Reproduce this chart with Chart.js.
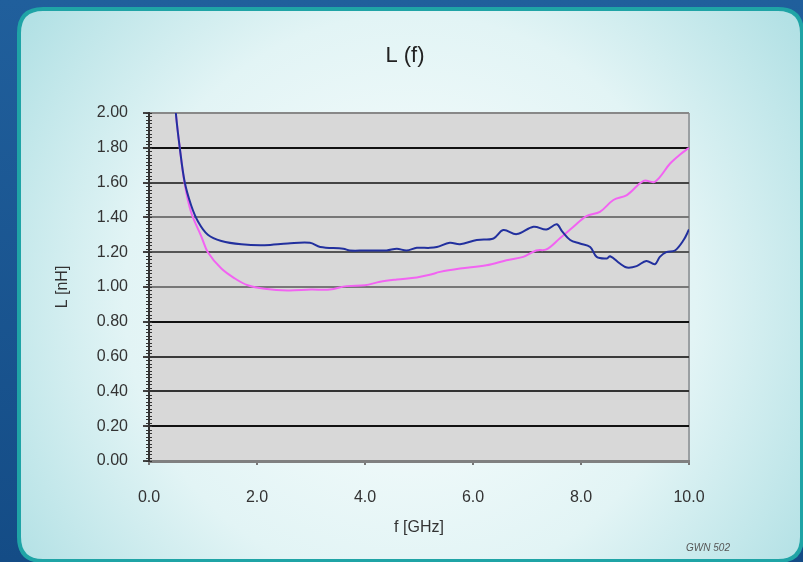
<!DOCTYPE html>
<html><head><meta charset="utf-8">
<script src="https://cdn.jsdelivr.net/npm/chart.js@4/dist/chart.umd.min.js"></script>
<style>html,body{margin:0;padding:0;background:#1b5a96;overflow:hidden}#wrap{width:803px;height:562px;position:relative}</style>
</head><body><div id="wrap"><canvas id="c" width="803" height="562"></canvas></div>
<script>
const titleText = 'L (f)';
const xTitle = 'f [GHz]';
const yTitle = 'L [nH]';
const footnote = 'GWN 502';
const xTickValues = [0, 2, 4, 6, 8, 10];
const yTickValues = [0, 0.2, 0.4, 0.6, 0.8, 1.0, 1.2, 1.4, 1.6, 1.8, 2.0];

const freqBlue = [0.48, 0.5, 0.57, 0.66, 0.78, 0.91, 1.09, 1.34, 1.71, 2.14, 2.57, 2.98, 3.17, 3.6, 3.72, 4.0, 4.4, 4.59, 4.77, 4.96, 5.2, 5.33, 5.57, 5.76, 6.07, 6.38, 6.56, 6.81, 7.12, 7.36, 7.55, 7.65, 7.8, 7.98, 8.17, 8.29, 8.48, 8.54, 8.72, 8.85, 9.03, 9.21, 9.37, 9.46, 9.58, 9.74, 9.9, 10.0];
const LBlue    = [2.1, 1.99, 1.80, 1.605, 1.47, 1.375, 1.30, 1.264, 1.245, 1.24, 1.25, 1.254, 1.23, 1.22, 1.21, 1.21, 1.21, 1.22, 1.21, 1.225, 1.225, 1.23, 1.254, 1.246, 1.27, 1.279, 1.327, 1.304, 1.346, 1.33, 1.36, 1.32, 1.27, 1.25, 1.23, 1.173, 1.164, 1.177, 1.135, 1.112, 1.12, 1.15, 1.131, 1.173, 1.20, 1.21, 1.27, 1.33];

const freqPink = [0.48, 0.5, 0.57, 0.66, 0.78, 0.97, 1.09, 1.34, 1.59, 1.83, 2.14, 2.57, 3.0, 3.35, 3.66, 4.0, 4.28, 4.59, 4.96, 5.2, 5.39, 5.76, 6.25, 6.62, 6.93, 7.17, 7.36, 7.61, 7.86, 8.1, 8.35, 8.6, 8.85, 9.16, 9.37, 9.65, 9.83, 10.0];
const LPink    = [2.1, 1.99, 1.80, 1.595, 1.43, 1.29, 1.20, 1.106, 1.049, 1.01, 0.99, 0.98, 0.985, 0.985, 1.005, 1.01, 1.03, 1.043, 1.055, 1.07, 1.087, 1.106, 1.125, 1.154, 1.173, 1.21, 1.216, 1.28, 1.346, 1.408, 1.432, 1.5, 1.528, 1.61, 1.605, 1.71, 1.76, 1.80];

const gridColors = ['#7a7a7a', '#111', '#333', '#3a3a3a', '#111', '#777', '#555', '#777', '#444', '#111', '#888'];

function rr(ctx, x, y, w, h, r) {
  ctx.beginPath();
  ctx.moveTo(x + r, y);
  ctx.lineTo(x + w - r, y); ctx.quadraticCurveTo(x + w, y, x + w, y + r);
  ctx.lineTo(x + w, y + h - r); ctx.quadraticCurveTo(x + w, y + h, x + w - r, y + h);
  ctx.lineTo(x + r, y + h); ctx.quadraticCurveTo(x, y + h, x, y + h - r);
  ctx.lineTo(x, y + r); ctx.quadraticCurveTo(x, y, x + r, y);
  ctx.closePath();
}

const bgPlugin = {
  id: 'bg',
  beforeDraw(chart) {
    const ctx = chart.ctx, W = chart.width, H = chart.height;
    ctx.save();
    let g = ctx.createLinearGradient(0, 0, 0, H);
    g.addColorStop(0, '#205f9c'); g.addColorStop(1, '#144c86');
    ctx.fillStyle = g; ctx.fillRect(0, 0, W, H);
    rr(ctx, 19, 9, 783, 552, 24);
    let rg = ctx.createRadialGradient(410, 300, 60, 410, 300, 470);
    rg.addColorStop(0, '#f6fcfc'); rg.addColorStop(0.55, '#e2f4f5'); rg.addColorStop(1, '#b3e1e5');
    ctx.fillStyle = rg; ctx.fill();
    ctx.lineWidth = 4; ctx.strokeStyle = '#1fa4a6'; ctx.stroke();
    const a = chart.chartArea;
    ctx.fillStyle = '#d8d8d8';
    ctx.fillRect(a.left, a.top, a.right - a.left, a.bottom - a.top);
    ctx.strokeStyle = '#9a9fa2'; ctx.lineWidth = 2;
    ctx.beginPath(); ctx.moveTo(a.right, a.top); ctx.lineTo(a.right, a.bottom); ctx.stroke();
    ctx.restore();
  },
  afterDraw(chart) {
    const ctx = chart.ctx, y = chart.scales.y;
    ctx.save();
    ctx.strokeStyle = '#333'; ctx.lineWidth = 1;
    for (let i = 0; i <= 100; i++) {
      const py = Math.round(y.getPixelForValue(i * 0.02)) + 0.5;
      ctx.beginPath(); ctx.moveTo(y.right - 3, py); ctx.lineTo(y.right + 3, py); ctx.stroke();
    }
    ctx.fillStyle = '#222';
    ctx.font = '22px "Liberation Sans", Arial, sans-serif';
    ctx.textAlign = 'center'; ctx.textBaseline = 'middle';
    ctx.fillText(titleText, 405, 56);
    ctx.fillStyle = '#555';
    ctx.font = 'italic 10px "Liberation Sans", Arial, sans-serif';
    ctx.fillText(footnote, 708, 548);
    ctx.restore();
  }
};

const tickFont = { family: '"Liberation Sans", Arial, sans-serif', size: 16 };

new Chart(document.getElementById('c'), {
  type: 'line',
  data: {
    datasets: [
      { label: 'L1', data: freqBlue.map((f, i) => ({ x: f, y: LBlue[i] })), borderColor: '#22309e', borderWidth: 2, pointRadius: 0, tension: 0.35, fill: false },
      { label: 'L2', data: freqPink.map((f, i) => ({ x: f, y: LPink[i] })), borderColor: '#f263f2', borderWidth: 2, pointRadius: 0, tension: 0.35, fill: false }
    ]
  },
  options: {
    responsive: false, animation: false, devicePixelRatio: 1,
    layout: { padding: { top: 113, left: 40, right: 114, bottom: 0 } },
    plugins: { legend: { display: false }, title: { display: false }, tooltip: { enabled: false } },
    scales: {
      x: {
        type: 'linear', min: 0, max: 10,
        afterBuildTicks: s => { s.ticks = xTickValues.map(v => ({ value: v })); },
        afterFit: s => { s.height = 101; },
        ticks: { font: tickFont, color: '#333', padding: 23, callback: v => Number(v).toFixed(1), maxRotation: 0 },
        grid: { drawOnChartArea: false, drawTicks: true, tickLength: 4, color: '#777', lineWidth: 2 },
        border: { display: true, color: '#808080', width: 3 },
        title: { display: true, text: xTitle, font: tickFont, color: '#333', padding: { top: 0, bottom: 25 } }
      },
      y: {
        type: 'linear', min: 0, max: 2,
        afterBuildTicks: s => { s.ticks = yTickValues.map(v => ({ value: v })); },
        afterFit: s => { s.width = 109; },
        ticks: { font: tickFont, color: '#333', padding: 15, callback: v => Number(v).toFixed(2) },
        grid: { color: c => gridColors[c.index] || '#555', lineWidth: 2, drawTicks: true, tickLength: 6, tickColor: '#444' },
        border: { display: true, color: '#333', width: 2 },
        title: { display: true, text: yTitle, font: tickFont, color: '#333', padding: { top: 13, bottom: 0 } }
      }
    }
  },
  plugins: [bgPlugin]
});
</script>
</body></html>
